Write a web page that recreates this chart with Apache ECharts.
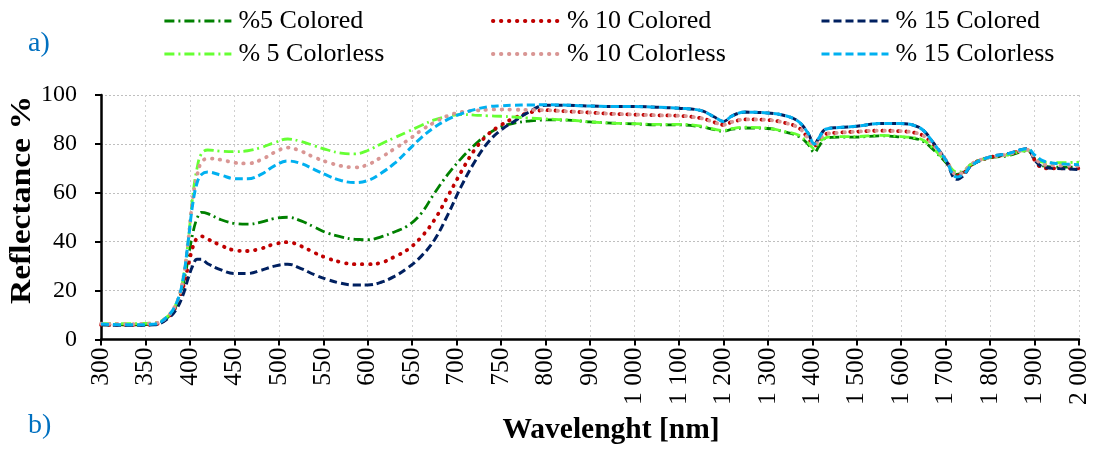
<!DOCTYPE html>
<html>
<head>
<meta charset="utf-8">
<script src="https://cdn.jsdelivr.net/npm/echarts@6/dist/echarts.min.js"></script>
<style>
html,body{margin:0;padding:0;background:#fff;}
#chart{width:1093px;height:450px;}
</style>
</head>
<body>
<div id="chart"></div>
<script>
// ---- data ----
const tickLabels = ['300','350','400','450','500','550','600','650','700','750','800','900','1 000','1 100','1 200','1 300','1 400','1 500','1 600','1 700','1 800','1 900','2 000'];
const wavelengths = [300,330,360,375,385,392,398,403,408,413,
  420,435,450,465,480,495,510,525,540,555,
  570,585,600,615,630,645,660,675,690,705,
  720,735,750,765,780,800,850,900,950,1000,
  1050,1100,1150,1180,1200,1220,1250,1300,1340,1370,
  1390,1405,1415,1430,1460,1500,1550,1600,1630,1650,
  1670,1700,1725,1740,1760,1800,1840,1870,1885,1900,
  1920,1950,2000];
const colored5 = [6,6,6.3,9,14,22,33,43,49.5,52,
  51.5,49,47.5,47.2,48,49.5,50,48.5,46,43.5,
  42,41,40.8,42,44,46.5,51.5,59.8,67.5,74,
  79.5,84,87,88.5,89.3,89.8,89.7,89,88.5,88.2,
  87.8,87.8,87,85.8,85.2,86,86.5,86.3,84.8,83,
  80,76.5,79,82.3,82.8,82.8,83.3,82.8,82.2,81,
  78,72.5,67.5,68.5,71.5,74.3,75.2,76.8,77.2,74,
  71,70.5,70.5];
const colored10 = [6,6,6.2,9,14,21,30,37.5,41.5,42.2,
  41,38.5,36.5,36.2,37.2,39,39.8,38.2,35.5,33.2,
  31.6,30.8,30.8,31.4,33.8,36.8,41.8,48.9,58.5,68.5,
  77.5,83.8,87.7,90.6,92.6,93.8,93.3,92.8,92.3,92,
  91.7,91.5,90.5,88.8,87.8,89,90,89.8,88.5,86.5,
  82.5,79.2,81.5,84,84.6,85,85.4,85.2,84.6,83.3,
  80,73.5,67,68,71.8,74.5,75.7,77.2,77.6,73.5,
  70,70,70];
const colored15 = [6,5.8,6,8.5,12.5,18,25,30,32.8,32.8,
  31,28.5,27,27,28.3,30,30.8,29,26.5,24.5,
  23,22.3,22.3,23.4,25.8,29.3,34,40.7,51,62.5,
  72.5,80.5,85.7,89.3,92.8,95.8,95.8,95.5,95.3,95.3,
  95,94.6,93.6,91,89.2,91.5,93,92.6,91.5,89,
  84.5,80,82.5,86,86.7,87.2,88.3,88.3,87.5,85.5,
  81,73.5,65.5,67,71.5,74.7,76,77.6,78,73.5,
  70.5,70,69.5];
const colorless5 = [6.5,6.5,6.8,9.5,15,24,40,58,70,76,
  77.5,77,76.8,77.2,78.5,80.5,82,81,79.2,77.5,
  76.2,75.9,77.3,80,82.5,85,87.5,89.8,91.3,92,
  91.8,91.5,91.3,91,90.6,90.2,89.8,89,88.5,88.3,
  88,88,87.3,86,85.5,86.3,86.8,86.4,85,83.5,
  80.5,78,80.5,82.5,83,83,83.5,83,82.5,81.5,
  78.5,73,68.5,69,72,74.5,75.5,77,77.5,75,
  72.5,72.3,72.5];
const colorless10 = [6.5,6.3,6.6,9.5,15,24,40,57,67,72.5,
  74,73.5,72.3,72,73.5,76.5,78.5,77,74.5,72.5,
  71,70.4,71.5,74.5,78,81.5,85.5,88.8,91.5,93,
  93.6,94,94.1,94,93.9,93.8,93.3,92.8,92.3,92,
  91.7,91.5,90.5,88.8,87.8,89,90,89.8,88.5,86.5,
  82.5,79.2,81.5,84,84.6,85,85.4,85.2,84.6,83.3,
  80,73.5,67.5,68.5,72,74.5,75.7,77.2,77.6,74.5,
  71.5,71.2,71];
const colorless15 = [6.3,6,6.3,9.5,15,24,40,55,64,67.5,
  68.5,67.2,65.8,65.7,67.5,71,73,72,69.5,67,
  65,64.2,65,68,72,77.2,82.5,86.8,90,92.3,
  94,95.2,95.6,95.8,95.9,96,95.8,95.5,95.3,95.3,
  95,94.6,93.6,91,89.2,91.5,93,92.6,91.5,89,
  84.5,80,82.5,86,86.7,87.2,88.3,88.3,87.5,85.5,
  81,73.5,66.5,67.5,71.5,74.7,76,77.6,78,75.5,
  73,72,71.5];
const seriesNames = ['%5 Colored','% 10 Colored','% 15 Colored','% 5 Colorless','% 10 Colorless','% 15 Colorless'];

// ---- chart ----
const FONT = "'Liberation Serif','Times New Roman',serif";
// axis is categorical-like: 300..800 by 50, then 800..2000 by 100, evenly spaced ticks
function axisPos(w){ return w <= 800 ? (w - 300) / 50 : 10 + (w - 800) / 100; }
function toPairs(vals){ return wavelengths.map((w,i)=>[axisPos(w), vals[i]]); }

const styles = [
  {color:'#008000', type:[10,4,2,4], width:2.8, cap:'butt'},
  {color:'#c00000', type:[0.5,7.5], width:3.8, cap:'round'},
  {color:'#002060', type:[8,4], width:3, cap:'butt'},
  {color:'#66ff33', type:[10,4,2,4], width:2.8, cap:'butt'},
  {color:'#d99694', type:[0.5,7.5], width:3.8, cap:'round'},
  {color:'#00b0f0', type:[8,4], width:3, cap:'butt'}
];
const dataSets = [colored5, colored10, colored15, colorless5, colorless10, colorless15];

const series = dataSets.map((d,i)=>({
  name: seriesNames[i],
  type: 'line',
  data: toPairs(d),
  smooth: 0.4,
  symbol: 'none',
  showSymbol: false,
  lineStyle: {color: styles[i].color, width: styles[i].width, type: styles[i].type, cap: styles[i].cap},
  itemStyle: {color: styles[i].color}
}));

const legendPos = [[163,8],[491,8],[820,8],[163,41],[491,41],[820,41]];
const legends = seriesNames.map((n,i)=>({
  data:[n], left: legendPos[i][0], top: legendPos[i][1], padding:0,
  itemWidth: 67, itemHeight: 12, itemGap: 0,
  itemStyle:{opacity:0},
  lineStyle:{opacity:1, color: styles[i].color, width: styles[i].width, type: styles[i].type, cap: styles[i].cap},
  textStyle:{fontSize:26, fontFamily:FONT, color:'#000', lineHeight:26, padding:[0,0,0,2]}
}));

const chart = echarts.init(document.getElementById('chart'));
chart.setOption({
  animation:false,
  backgroundColor:'#fff',
  legend: legends,
  grid:{left:101, right:14, top:95, bottom:110.5, containLabel:false},
  xAxis:{
    type:'value', min:0, max:22, interval:1,
    axisLine:{lineStyle:{color:'#000', width:2.5}},
    axisTick:{show:true, length:6, lineStyle:{color:'#000', width:2}},
    axisLabel:{rotate:90, fontSize:25.5, fontFamily:FONT, color:'#000', margin:8,
      formatter:(v)=>tickLabels[Math.round(v)] || ''},
    splitLine:{show:true, lineStyle:{color:'#d0d0d0', type:[2,3], width:1}}
  },
  yAxis:{
    type:'value', min:0, max:100, interval:20,
    axisLine:{show:true, lineStyle:{color:'#000', width:2.5}},
    axisTick:{show:true, length:6, lineStyle:{color:'#000', width:2}},
    axisLabel:{fontSize:24, fontFamily:FONT, color:'#000', margin:24},
    splitLine:{show:true, lineStyle:{color:'#bfbfbf', type:[2,2], width:1}}
  },
  graphic:[
    {type:'text', left:28, top:30, style:{text:'a)', font:"28px 'Liberation Serif',serif", fill:'#0070c0'}},
    {type:'text', left:28, top:412, style:{text:'b)', font:"28px 'Liberation Serif',serif", fill:'#0070c0'}},
    {type:'text', x:611, y:430, style:{text:'Wavelenght [nm]', font:"bold 29.5px 'Liberation Serif',serif", fill:'#000', align:'center', verticalAlign:'middle'}},
    {type:'text', x:22, y:200, rotation:Math.PI/2, scaleX:1.12, style:{text:'Reflectance %', font:"bold 30px 'Liberation Serif',serif", fill:'#000', align:'center', verticalAlign:'middle'}}
  ],
  series: series
});
</script>
</body>
</html>
